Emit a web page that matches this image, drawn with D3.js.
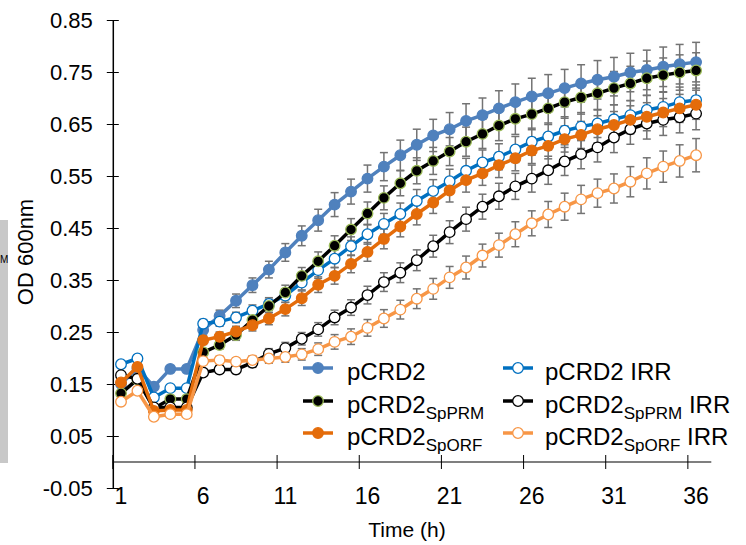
<!DOCTYPE html>
<html>
<head>
<meta charset="utf-8">
<script src="https://cdn.jsdelivr.net/npm/d3@7"></script>
<style>
  body { margin: 0; background: #fff; }
  text { font-family: "Liberation Sans", Arial, sans-serif; fill: #000; }
</style>
</head>
<body>
<div class="chart"></div>
<script>
// categories (hours)
var hours = [1, 2, 3, 4, 5, 6, 7, 8, 9, 10, 11, 12, 13, 14, 15, 16, 17, 18,
  19, 20, 21, 22, 23, 24, 25, 26, 27, 28, 29, 30, 31, 32, 33, 34, 35, 36];
var xLabels = [1, 6, 11, 16, 21, 26, 31, 36];
var yTicks = [-0.05, 0.05, 0.15, 0.25, 0.35, 0.45, 0.55, 0.65, 0.75, 0.85];

// OD600 readings
var pCRD2 = [0.150, 0.180, 0.145, 0.179, 0.179, 0.254, 0.281, 0.310, 0.340, 0.370, 0.403, 0.435,
  0.465, 0.495, 0.520, 0.545, 0.568, 0.590, 0.610, 0.628, 0.640, 0.656, 0.667, 0.680,
  0.692, 0.703, 0.709, 0.719, 0.728, 0.735, 0.741, 0.749, 0.754, 0.760, 0.765, 0.769];
var pCRD2Irr = [0.188, 0.199, 0.124, 0.142, 0.142, 0.266, 0.270, 0.278, 0.291, 0.304, 0.320, 0.345,
  0.369, 0.391, 0.415, 0.438, 0.458, 0.477, 0.502, 0.521, 0.540, 0.560, 0.576, 0.587,
  0.601, 0.616, 0.626, 0.637, 0.645, 0.651, 0.659, 0.667, 0.677, 0.683, 0.692, 0.696];
var spPRM = [0.132, 0.159, 0.103, 0.121, 0.121, 0.211, 0.225, 0.244, 0.273, 0.300, 0.326, 0.358,
  0.386, 0.416, 0.447, 0.478, 0.508, 0.536, 0.560, 0.579, 0.597, 0.616, 0.631, 0.647,
  0.660, 0.669, 0.680, 0.692, 0.701, 0.709, 0.719, 0.728, 0.738, 0.744, 0.749, 0.753];
var spPRMIrr = [0.167, 0.160, 0.105, 0.105, 0.105, 0.172, 0.178, 0.178, 0.191, 0.208, 0.219, 0.237,
  0.255, 0.278, 0.297, 0.321, 0.346, 0.364, 0.388, 0.415, 0.442, 0.467, 0.491, 0.511,
  0.530, 0.545, 0.561, 0.578, 0.592, 0.605, 0.624, 0.640, 0.651, 0.658, 0.663, 0.670];
var spORF = [0.153, 0.183, 0.098, 0.100, 0.100, 0.234, 0.241, 0.251, 0.263, 0.276, 0.294, 0.315,
  0.341, 0.358, 0.381, 0.404, 0.429, 0.453, 0.477, 0.499, 0.522, 0.542, 0.555, 0.571,
  0.584, 0.599, 0.608, 0.621, 0.629, 0.640, 0.648, 0.658, 0.664, 0.672, 0.680, 0.687];
var spORFIrr = [0.116, 0.137, 0.087, 0.092, 0.092, 0.194, 0.196, 0.193, 0.196, 0.199, 0.202, 0.207,
  0.217, 0.231, 0.241, 0.258, 0.276, 0.293, 0.314, 0.333, 0.355, 0.374, 0.397, 0.417,
  0.438, 0.459, 0.476, 0.491, 0.505, 0.517, 0.526, 0.539, 0.555, 0.568, 0.579, 0.590];

// error bars (+/-)
var errPCRD2 = [.004, .004, .005, .005, .005, .010, .011, .013, .014, .016, .017, .019,
  .021, .023, .024, .026, .027, .029, .030, .031, .032, .033, .033, .034,
  .035, .035, .036, .036, .036, .037, .037, .037, .038, .038, .038, .038];
var errPCRD2Irr = [.004, .004, .004, .004, .004, .008, .009, .010, .011, .012, .013, .014,
  .016, .017, .018, .019, .020, .021, .022, .022, .023, .024, .024, .025,
  .025, .026, .026, .027, .027, .027, .028, .028, .028, .029, .029, .029];
var errSpPRM = [.004, .004, .004, .004, .004, .007, .008, .010, .011, .013, .014, .016,
  .018, .019, .021, .022, .023, .024, .025, .026, .027, .028, .028, .029,
  .030, .030, .031, .031, .032, .032, .032, .033, .033, .033, .034, .034];
var errSpPRMIrr = [.004, .004, .004, .004, .004, .006, .007, .008, .009, .010, .011, .012,
  .013, .014, .015, .017, .018, .019, .020, .021, .022, .023, .024, .025,
  .025, .026, .027, .027, .028, .028, .029, .029, .030, .030, .030, .031];
var errSpORF = [.004, .004, .004, .004, .004, .008, .009, .010, .011, .012, .013, .014,
  .015, .016, .017, .018, .019, .020, .021, .021, .022, .023, .023, .024,
  .024, .025, .025, .025, .026, .026, .026, .027, .027, .027, .027, .028];
var errSpORFIrr = [.004, .004, .004, .004, .004, .006, .007, .007, .008, .009, .010, .011,
  .012, .014, .015, .016, .017, .018, .019, .020, .021, .022, .022, .023,
  .024, .024, .025, .026, .027, .027, .028, .029, .030, .030, .031, .032];

// series in excel order (later ones drawn on top)
var series = [
  { name: "pCRD2", sub: "", tail: "", values: pCRD2, err: errPCRD2,
    line: "#4f81bd", fill: "#4f81bd", stroke: "#4f81bd", col: 0, row: 0 },
  { name: "pCRD2", sub: "", tail: " IRR", values: pCRD2Irr, err: errPCRD2Irr,
    line: "#0070c0", fill: "#fff", stroke: "#0070c0", col: 1, row: 0 },
  { name: "pCRD2", sub: "SpPRM", tail: "", values: spPRM, err: errSpPRM,
    line: "#000", fill: "#000", stroke: "#9bbb59", col: 0, row: 1 },
  { name: "pCRD2", sub: "SpPRM", tail: " IRR", values: spPRMIrr, err: errSpPRMIrr,
    line: "#000", fill: "#fff", stroke: "#000", col: 1, row: 1 },
  { name: "pCRD2", sub: "SpORF", tail: "", values: spORF, err: errSpORF,
    line: "#e46c0a", fill: "#e46c0a", stroke: "#e46c0a", col: 0, row: 2 },
  { name: "pCRD2", sub: "SpORF", tail: " IRR", values: spORFIrr, err: errSpORFIrr,
    line: "#f79646", fill: "#fff", stroke: "#f79646", col: 1, row: 2 }
];

var width = 746, height = 545;

var svg = d3.select(".chart").append("svg")
  .attr("width", width)
  .attr("height", height);

svg.append("rect").attr("width", width).attr("height", height).attr("fill", "#fff");

// cropped strip from the neighbouring panel
svg.append("rect")
  .attr("x", 0).attr("y", 220).attr("width", 8).attr("height", 243)
  .attr("fill", "#c8c8c8");
svg.append("text")
  .attr("x", 0).attr("y", 263)
  .style("font-size", "10px")
  .text("M");

var x = d3.scaleBand().domain(hours).range([112.8, 704.3]);
var y = d3.scaleLinear().domain([-0.05, 0.85]).range([488, 20]);

function cx(h) { return x(h) + x.bandwidth() / 2; }

// x axis at zero
svg.append("line")
  .attr("x1", x.range()[0]).attr("x2", x.range()[1] + 7)
  .attr("y1", y(0)).attr("y2", y(0))
  .attr("stroke", "#7f7f7f").attr("stroke-width", 2);

svg.selectAll(".xtick")
  .data(xLabels)
  .enter()
  .append("line")
  .attr("class", "xtick")
  .attr("x1", function (d) { return x(d); })
  .attr("x2", function (d) { return x(d); })
  .attr("y1", y(0) - 7).attr("y2", y(0) + 7)
  .attr("stroke", "#000").attr("stroke-width", 1);

svg.selectAll(".xlabel")
  .data(xLabels)
  .enter()
  .append("text")
  .attr("class", "xlabel")
  .attr("x", function (d) { return cx(d); })
  .attr("y", 504)
  .attr("text-anchor", "middle")
  .style("font-size", "23px")
  .text(function (d) { return d; });

// y axis
var yAxis = svg.append("g")
  .attr("transform", "translate(112.8,0)")
  .call(d3.axisLeft(y).tickValues(yTicks).tickSizeOuter(0)
    .tickFormat(function (d) { return d3.format(".2f")(d).replace("\u2212", "-"); }));

yAxis.select(".domain").attr("stroke", "#000").attr("stroke-width", 1.5);
yAxis.selectAll(".tick line").attr("x1", -6).attr("x2", 6).attr("stroke", "#000");
yAxis.selectAll(".tick text")
  .attr("x", -20)
  .style("font-size", "22px")
  .style("font-family", "'Liberation Sans', Arial, sans-serif")
  .attr("fill", "#000");

svg.append("text")
  .attr("transform", "translate(33,252) rotate(-90)")
  .attr("text-anchor", "middle")
  .style("font-size", "22px")
  .text("OD 600nm");

svg.append("text")
  .attr("x", 407).attr("y", 537)
  .attr("text-anchor", "middle")
  .style("font-size", "21px")
  .text("Time  (h)");

// error bars first
var bars = svg.append("g");
series.forEach(function (s) {
  var g = bars.append("g");
  var pts = hours.map(function (h, i) { return { h: h, v: s.values[i], e: s.err[i] }; });
  g.selectAll("line.bar")
    .data(pts).enter().append("line")
    .attr("x1", function (d) { return cx(d.h); })
    .attr("x2", function (d) { return cx(d.h); })
    .attr("y1", function (d) { return y(d.v - d.e); })
    .attr("y2", function (d) { return y(d.v + d.e); })
    .attr("stroke", "#737373").attr("stroke-width", 1.5);
  [-1, 1].forEach(function (sign) {
    g.selectAll("line.cap" + sign)
      .data(pts).enter().append("line")
      .attr("x1", function (d) { return cx(d.h) - 4; })
      .attr("x2", function (d) { return cx(d.h) + 4; })
      .attr("y1", function (d) { return y(d.v + sign * d.e); })
      .attr("y2", function (d) { return y(d.v + sign * d.e); })
      .attr("stroke", "#737373").attr("stroke-width", 1.5);
  });
});

var line = d3.line()
  .x(function (d) { return cx(d.h); })
  .y(function (d) { return y(d.v); });

series.forEach(function (s) {
  var pts = hours.map(function (h, i) { return { h: h, v: s.values[i] }; });
  svg.append("path")
    .datum(pts)
    .attr("d", line)
    .attr("fill", "none")
    .attr("stroke", s.line)
    .attr("stroke-width", 3.5);
  svg.selectAll(null)
    .data(pts).enter().append("circle")
    .attr("cx", function (d) { return cx(d.h); })
    .attr("cy", function (d) { return y(d.v); })
    .attr("r", 5.3)
    .attr("fill", s.fill)
    .attr("stroke", s.stroke)
    .attr("stroke-width", 1.3);
});

// legend
var legendX = [303, 503], legendY = [368, 401, 433];
var legend = svg.selectAll(".legend")
  .data(series).enter().append("g")
  .attr("class", "legend")
  .attr("transform", function (d) {
    return "translate(" + legendX[d.col] + "," + legendY[d.row] + ")";
  });

legend.append("line")
  .attr("x1", 0).attr("x2", 30)
  .attr("stroke", function (d) { return d.line; })
  .attr("stroke-width", 3.5);
legend.append("circle")
  .attr("cx", 15).attr("r", 5.3)
  .attr("fill", function (d) { return d.fill; })
  .attr("stroke", function (d) { return d.stroke; })
  .attr("stroke-width", 1.3);

var lt = legend.append("text")
  .attr("x", function (d) { return d.col == 0 ? 44 : 42; })
  .attr("y", 12)
  .style("font-size", "24px");
lt.append("tspan").text(function (d) { return d.name; });
lt.append("tspan")
  .attr("dy", 6)
  .style("font-size", "17px")
  .text(function (d) { return d.sub; });
lt.append("tspan")
  .attr("dy", function (d) { return d.sub ? -6 : 0; })
  .text(function (d) { return d.tail; });
</script>
</body>
</html>
